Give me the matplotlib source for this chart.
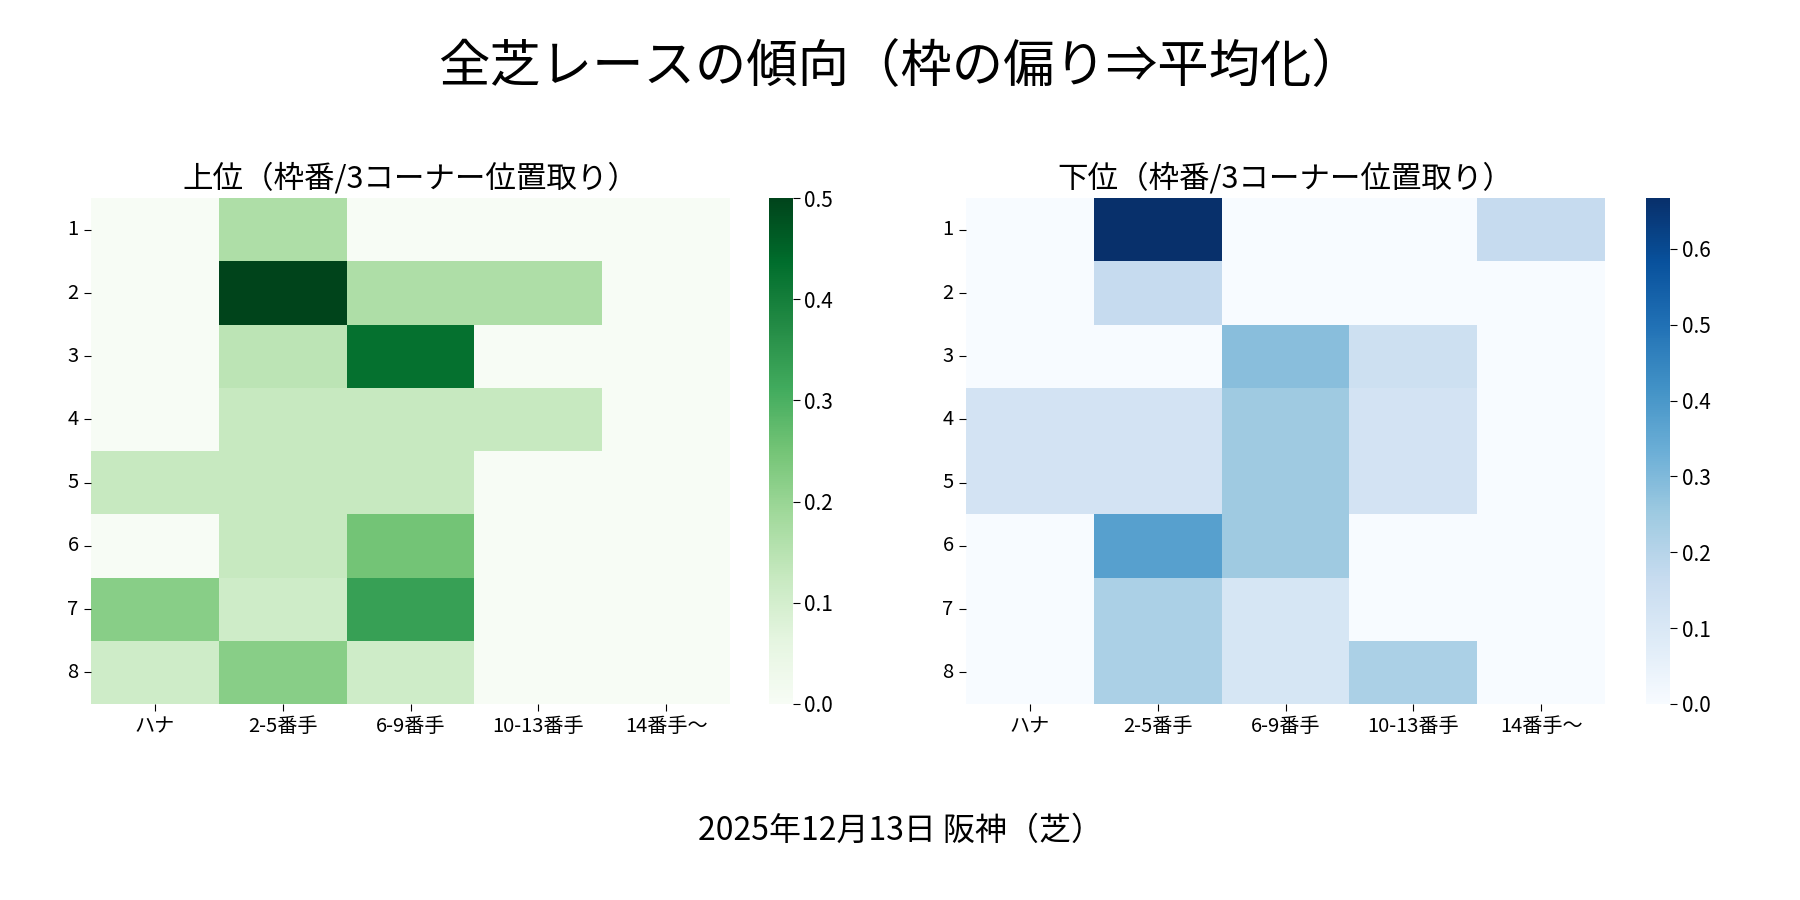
import numpy as np
import pandas as pd
import matplotlib
matplotlib.use("Agg")
import matplotlib.pyplot as plt
import seaborn as sns

plt.rcParams['font.family'] = ['Noto Sans CJK JP', 'DejaVu Sans']

frames = ["1", "2", "3", "4", "5", "6", "7", "8"]
positions = ["ハナ", "2-5番手", "6-9番手", "10-13番手", "14番手〜"]

top_values = [
    [0.0, 0.167, 0.0, 0.0, 0.0],
    [0.0, 0.5, 0.167, 0.167, 0.0],
    [0.0, 0.143, 0.429, 0.0, 0.0],
    [0.0, 0.125, 0.125, 0.125, 0.0],
    [0.125, 0.125, 0.125, 0.0, 0.0],
    [0.0, 0.125, 0.25, 0.0, 0.0],
    [0.222, 0.111, 0.333, 0.0, 0.0],
    [0.111, 0.222, 0.111, 0.0, 0.0],
]
bottom_values = [
    [0.0, 0.667, 0.0, 0.0, 0.167],
    [0.0, 0.167, 0.0, 0.0, 0.0],
    [0.0, 0.0, 0.286, 0.143, 0.0],
    [0.125, 0.125, 0.25, 0.125, 0.0],
    [0.125, 0.125, 0.25, 0.125, 0.0],
    [0.0, 0.375, 0.25, 0.0, 0.0],
    [0.0, 0.222, 0.111, 0.0, 0.0],
    [0.0, 0.222, 0.111, 0.222, 0.0],
]

main_title = "全芝レースの傾向（枠の偏り⇒平均化）"
top_title = "上位（枠番/3コーナー位置取り）"
bottom_title = "下位（枠番/3コーナー位置取り）"
footer = "2025年12月13日 阪神（芝）"

df_top = pd.DataFrame(top_values, index=frames, columns=positions)
df_bot = pd.DataFrame(bottom_values, index=frames, columns=positions)

fig = plt.figure(figsize=(18, 9), dpi=100)
ax1 = fig.add_axes([0.0506, 0.2178, 0.355, 0.562])
cax1 = fig.add_axes([0.427, 0.2178, 0.0133, 0.562])
ax2 = fig.add_axes([0.5367, 0.2178, 0.355, 0.562])
cax2 = fig.add_axes([0.9147, 0.2178, 0.0133, 0.562])

sns.heatmap(df_top, ax=ax1, cbar_ax=cax1, cmap="Greens", vmin=0)
sns.heatmap(df_bot, ax=ax2, cbar_ax=cax2, cmap="Blues", vmin=0)

for ax, t in ((ax1, top_title), (ax2, bottom_title)):
    ax.set_title(t, fontsize=22, pad=8)
    ax.tick_params(axis='both', labelsize=14.5, rotation=0, length=5, pad=4)
    ax.set_xlabel("")
    ax.set_ylabel("")
for cax in (cax1, cax2):
    cax.tick_params(labelsize=15, length=5)

fig.suptitle(main_title, fontsize=37, y=0.955)
fig.text(0.5, 0.077, footer, ha='center', va='center', fontsize=23)

fig.savefig("out.png", dpi=100)
